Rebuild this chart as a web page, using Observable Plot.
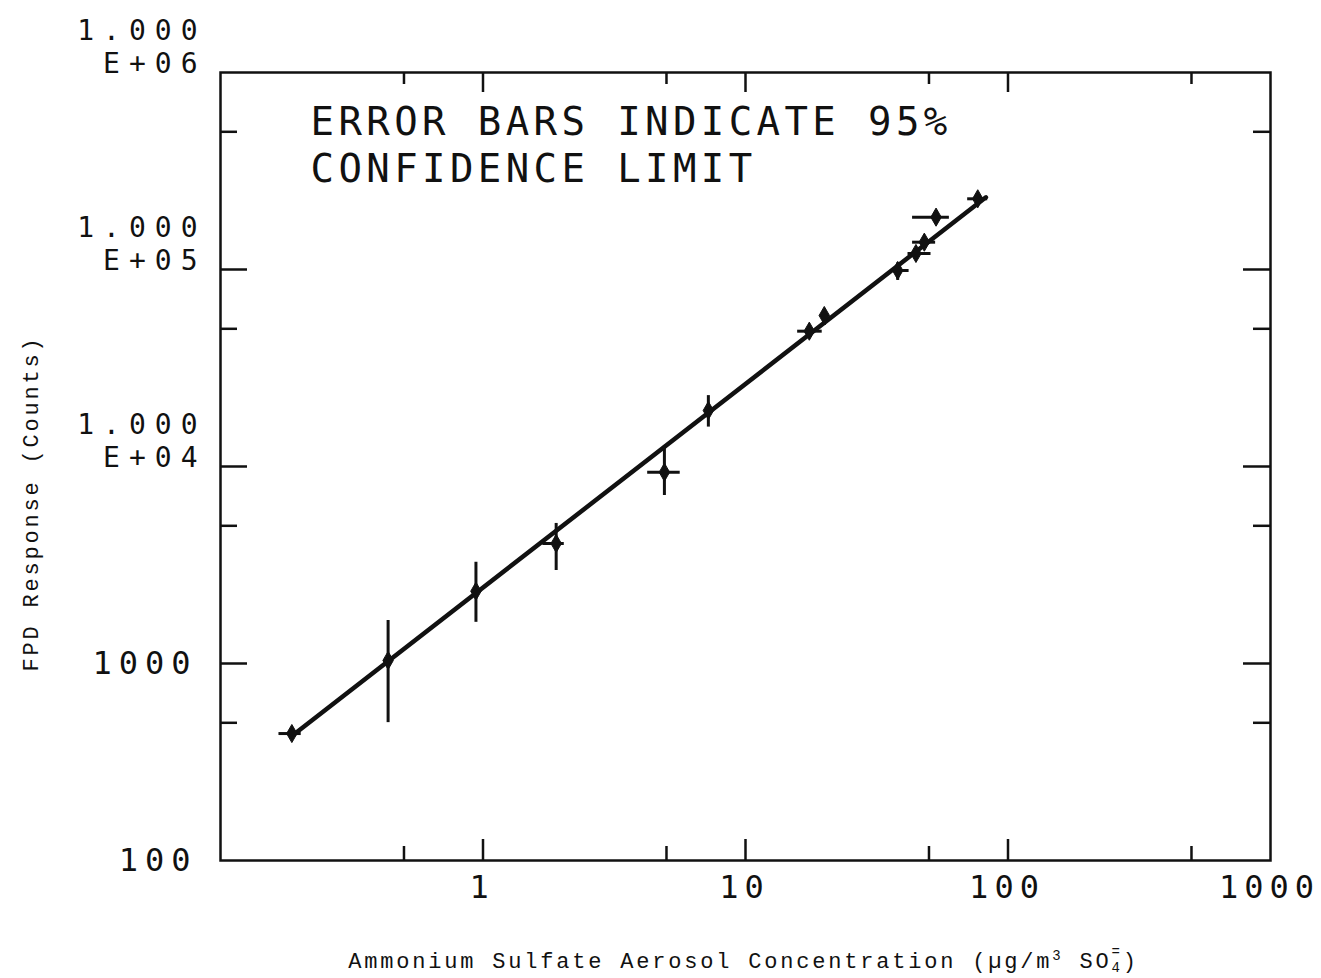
<!DOCTYPE html>
<html>
<head>
<meta charset="utf-8">
<script src="https://cdn.jsdelivr.net/npm/d3@7"></script>
<script src="https://cdn.jsdelivr.net/npm/@observablehq/plot@0.6"></script>
<style>
  html, body { margin: 0; padding: 0; background: #fff; }
  #chart svg { display: block; }
</style>
</head>
<body>
<div id="chart"></div>
<script>
// Calibration points: aerosol concentration (µg/m³ SO4=) vs FPD response (counts)
const conc   = [0.187, 0.435, 0.94, 1.90, 4.91, 7.22, 17.5, 19.96, 38.0, 44.6, 48.0, 53.2, 76.7];
const counts = [441, 1036, 2328, 4066, 9354, 19240, 48630, 58400, 98860, 120600, 137600, 184400, 228500];

// 95% confidence limits (null where no bar is drawn)
const countsLow  = [null, 501, 1618, 2965, 7123, 15850, null, 51970, 88000, null, null, 172000, null];
const countsHigh = [null, 1653, 3265, 5140, 12790, 22900, null, 61900, 108000, null, null, 198000, null];
const concLow    = [0.167, null, null, 1.69, 4.24, null, 15.8, null, 35.8, 41.6, 43.3, 43.3, 70.2];
const concHigh   = [0.203, null, null, 2.04, 5.64, null, 19.6, null, 42.0, 50.9, 53.0, 59.8, 83.7];

// Least-squares line end points
const fitConc   = [0.188, 82.4];
const fitCounts = [431, 232600];

// Axis ticks and labels
const xMajorTicks = [1, 10, 100];
const xMinorTicks = [0.5, 5, 50, 500];
const yMajorTicks = [1000, 10000, 100000];
const yMinorTicks = [500, 5000, 50000, 500000];
const xLabelTicks = [1, 10, 100, 1000];
const xLabelText  = ["1", "10", "100", "1000"];
const yLabelTicks = [100, 1000, 10000, 100000, 1000000];
const yLabelText  = ["100", "1000", "1.000\nE+04", "1.000\nE+05", "1.000\nE+06"];

const noteText = "ERROR BARS INDICATE 95%\nCONFIDENCE LIMIT";
const yTitle = "FPD Response (Counts)";
const xTitle = "Ammonium Sulfate Aerosol Concentration (µg/m";
const xTitleUnit = ["3", " SO", "4", "=", ")"];

const ink = "#111";
const plotterFont = "DejaVu Sans Mono";
const typeFont = "Liberation Mono";

const W = 1321, H = 978;
const mL = 220, mR = 51, mT = 72, mB = 118;
const innerW = W - mL - mR, innerH = H - mT - mB;

const points = conc.map((c, i) => ({
  c, n: counts[i],
  xl: concLow[i], xh: concHigh[i],
  yl: countsLow[i], yh: countsHigh[i]
}));
const fit = fitConc.map((c, i) => ({c, n: fitCounts[i]}));
const yLabel = d => yLabelText[yLabelTicks.indexOf(d)];
const xLabel = d => xLabelText[xLabelTicks.indexOf(d)];

const chart = Plot.plot({
  width: W, height: H,
  marginLeft: mL, marginRight: mR, marginTop: mT, marginBottom: mB,
  style: {background: "#fff", color: ink},
  x: {type: "log", domain: [0.1, 1000], axis: null},
  y: {type: "log", domain: [100, 1000000], axis: null},
  marks: [
    Plot.frame({stroke: ink, strokeWidth: 2.5}),
    // inward ticks on all four sides
    Plot.tickY(yMajorTicks, {y: d => d, insetRight: innerW - 27, stroke: ink, strokeWidth: 2.5}),
    Plot.tickY(yMinorTicks, {y: d => d, insetRight: innerW - 17, stroke: ink, strokeWidth: 2.5}),
    Plot.tickY(yMajorTicks, {y: d => d, insetLeft: innerW - 27, stroke: ink, strokeWidth: 2.5}),
    Plot.tickY(yMinorTicks, {y: d => d, insetLeft: innerW - 17, stroke: ink, strokeWidth: 2.5}),
    Plot.tickX(xMajorTicks, {x: d => d, insetTop: innerH - 21, stroke: ink, strokeWidth: 2.5}),
    Plot.tickX(xMinorTicks, {x: d => d, insetTop: innerH - 14, stroke: ink, strokeWidth: 2.5}),
    Plot.tickX(xMajorTicks, {x: d => d, insetBottom: innerH - 20, stroke: ink, strokeWidth: 2.5}),
    Plot.tickX(xMinorTicks, {x: d => d, insetBottom: innerH - 12, stroke: ink, strokeWidth: 2.5}),
    // tick labels
    Plot.axisY(yLabelTicks.slice(0, 2), {
      anchor: "left", tickSize: 0, tickPadding: 23, tickFormat: yLabel,
      fontSize: 32, fontFamily: plotterFont, fill: ink
    }),
    Plot.axisY(yLabelTicks.slice(2), {
      anchor: "left", tickSize: 0, tickPadding: 14, tickFormat: yLabel,
      fontSize: 28, fontFamily: plotterFont, fill: ink,
      lineAnchor: "bottom", lineHeight: 1.17, dy: 0
    }),
    Plot.axisX(xLabelTicks, {
      anchor: "bottom", tickSize: 0, tickPadding: 15, tickFormat: xLabel,
      fontSize: 32, fontFamily: plotterFont, fill: ink, dx: -1
    }),
    // calibration line, error bars and points
    Plot.line(fit, {x: "c", y: "n", stroke: ink, strokeWidth: 4.5}),
    Plot.ruleX(points.filter(d => d.yl != null), {x: "c", y1: "yl", y2: "yh", stroke: ink, strokeWidth: 3}),
    Plot.ruleY(points.filter(d => d.xl != null), {y: "n", x1: "xl", x2: "xh", stroke: ink, strokeWidth: 3}),
    Plot.dot(points, {x: "c", y: "n", symbol: "diamond", r: 5.5, fill: ink, stroke: ink, strokeWidth: 1}),
    // annotation and titles
    Plot.text([noteText], {
      text: d => d, frameAnchor: "top-left", dx: 90, dy: 109,
      textAnchor: "start", lineAnchor: "bottom", lineHeight: 1.18,
      fontSize: 39, fontFamily: plotterFont, fill: ink
    }),
    Plot.text([yTitle], {
      text: d => d, frameAnchor: "left", dx: -190, dy: 37, rotate: -90,
      textAnchor: "middle", lineAnchor: "middle",
      fontSize: 22, fontFamily: typeFont, fill: ink
    }),
    Plot.text([xTitle], {
      text: d => d, frameAnchor: "bottom", dx: -2, dy: 107,
      textAnchor: "middle", lineAnchor: "bottom",
      fontSize: 22, fontFamily: typeFont, fill: ink
    })
  ]
});

document.getElementById("chart").appendChild(chart);

// letter spacing of the plotted and typed texts
chart.querySelectorAll('g[aria-label="y-axis tick label"] text').forEach(t => {
  t.style.letterSpacing = t.textContent.startsWith("1.000") ? "9px" : "7px";
});
chart.querySelectorAll('g[aria-label="x-axis tick label"] text').forEach(t => {
  t.style.letterSpacing = "6px";
});
const texts = Array.from(chart.querySelectorAll("text"));
const noteEl = texts.find(t => t.textContent.startsWith("ERROR"));
if (noteEl) noteEl.style.letterSpacing = "4.4px";
const yTitleEl = texts.find(t => t.textContent === yTitle);
if (yTitleEl) yTitleEl.style.letterSpacing = "2.8px";

// x title unit: superscript cube, subscript 4 with the charge above it
const xTitleEl = texts.find(t => t.textContent === xTitle);
if (xTitleEl) {
  xTitleEl.style.letterSpacing = "2.8px";
  const xt = d3.select(xTitleEl);
  xt.append("tspan").attr("dy", -8).attr("font-size", 14).text(xTitleUnit[0]);
  xt.append("tspan").attr("dy", 8).text(xTitleUnit[1]);
  xt.append("tspan").attr("dy", 4).attr("font-size", 14).text(xTitleUnit[2]);
  xt.append("tspan").attr("dx", -11.2).attr("dy", -16).attr("font-size", 14).text(xTitleUnit[3]);
  xt.append("tspan").attr("dy", 12).text(xTitleUnit[4]);
}
</script>
</body>
</html>
